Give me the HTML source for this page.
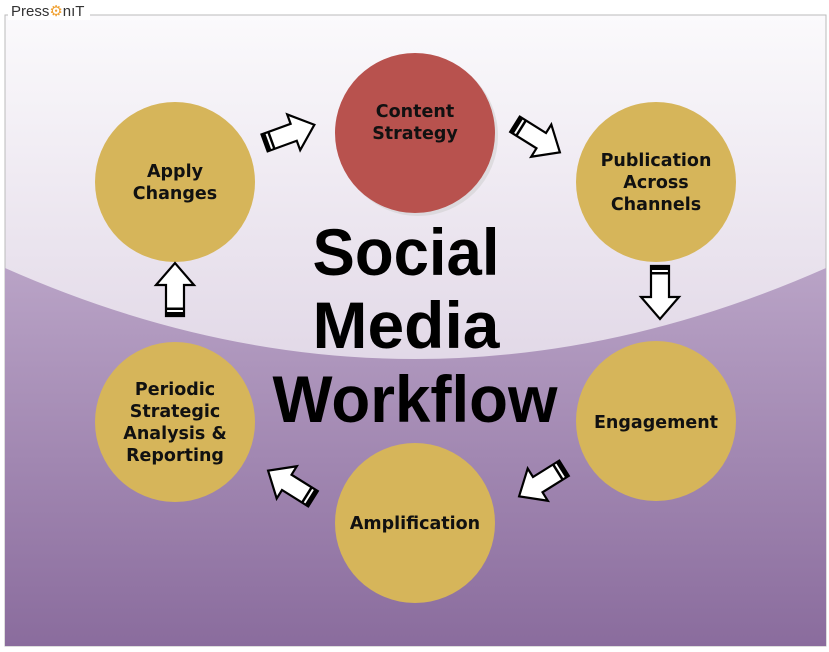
<!DOCTYPE html>
<html><head><meta charset="utf-8"><style>
html,body{margin:0;padding:0;background:#fff;width:829px;height:652px;overflow:hidden}
</style></head><body>
<svg width="829" height="652" viewBox="0 0 829 652" xmlns="http://www.w3.org/2000/svg">
<defs>
<linearGradient id="bg" x1="0" y1="0" x2="0" y2="1">
<stop offset="0" stop-color="#fbfafc"/><stop offset="1" stop-color="#cdbdd6"/>
</linearGradient>
<linearGradient id="lo" x1="0" y1="0" x2="0" y2="1">
<stop offset="0" stop-color="#b9a3c6"/><stop offset="1" stop-color="#8a6c9d"/>
</linearGradient>
<g id="ar">
<polygon points="-26,-9 5,-9 5,-19 27,0 5,19 5,9 -26,9" fill="#fff" stroke="#000" stroke-width="2.2" stroke-linejoin="miter"/>
<rect x="-26" y="-9" width="4" height="18" fill="#000"/>
<rect x="-20" y="-9" width="2.5" height="18" fill="#000"/>
</g>
</defs>
<rect x="5" y="15" width="821" height="631" fill="url(#bg)" stroke="#bbb" stroke-width="1"/>
<path d="M5,268 Q415,450 826,268 L826,646 L5,646 Z" fill="url(#lo)"/>
<rect x="8" y="2" width="82" height="18" fill="#fff"/>
<text x="11" y="16" font-family="Liberation Sans, sans-serif" font-size="15" fill="#333">Press<tspan fill="#f0a030">⚙</tspan>nıT</text>
<g font-family="DejaVu Sans, sans-serif" font-weight="bold" font-size="17.5" text-anchor="middle" fill="#111">
<circle cx="418" cy="136" r="80" fill="#ccc" opacity="0.5"/>
<circle cx="415" cy="133" r="80" fill="#b8524e"/>
<text x="415" y="117">Content</text><text x="415" y="139">Strategy</text>
<circle cx="656" cy="182" r="80" fill="#d6b55a"/>
<text x="656" y="166">Publication</text><text x="656" y="188">Across</text><text x="656" y="210">Channels</text>
<circle cx="656" cy="421" r="80" fill="#d6b55a"/>
<text x="656" y="428">Engagement</text>
<circle cx="415" cy="523" r="80" fill="#d6b55a"/>
<text x="415" y="529">Amplification</text>
<circle cx="175" cy="422" r="80" fill="#d6b55a"/>
<text x="175" y="395">Periodic</text><text x="175" y="417">Strategic</text><text x="175" y="439">Analysis &amp;</text><text x="175" y="461">Reporting</text>
<circle cx="175" cy="182" r="80" fill="#d6b55a"/>
<text x="175" y="177">Apply</text><text x="175" y="199">Changes</text>
</g>
<g font-family="Liberation Sans, sans-serif" font-weight="bold" font-size="66" text-anchor="middle" fill="#000">
<text x="406" y="275" textLength="187" lengthAdjust="spacingAndGlyphs">Social</text>
<text x="406" y="348">Media</text>
<text x="415" y="422" textLength="285" lengthAdjust="spacingAndGlyphs">Workflow</text>
</g>
<use href="#ar" transform="translate(289,134) rotate(-20)"/>
<use href="#ar" transform="translate(537,138) rotate(32)"/>
<use href="#ar" transform="translate(660,292) rotate(90)"/>
<use href="#ar" transform="translate(542,482) rotate(148)"/>
<use href="#ar" transform="translate(291,485) rotate(-148)"/>
<use href="#ar" transform="translate(175,290) rotate(-90)"/>
</svg>
</body></html>
